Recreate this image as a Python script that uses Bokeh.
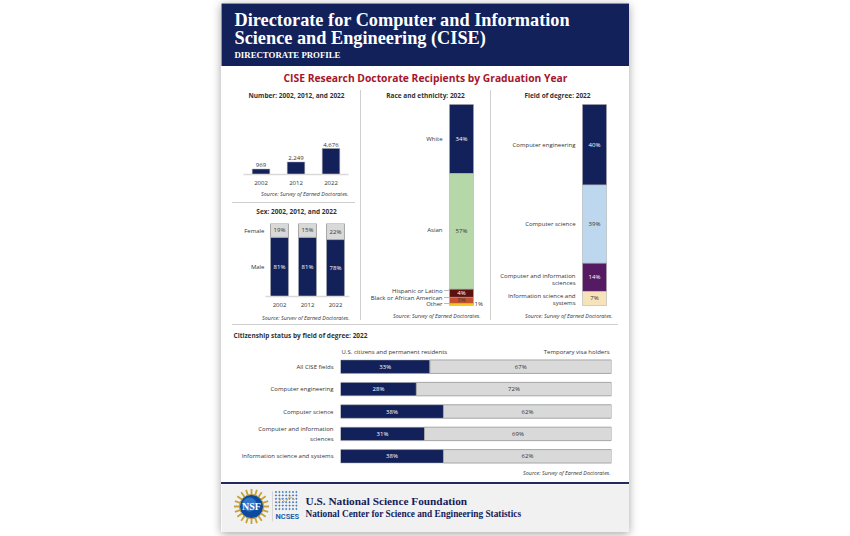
import numpy as np
from bokeh.core.properties import value
from bokeh.embed import file_html
from bokeh.layouts import column, row
from bokeh.models import CategoricalAxis, Div, FactorRange, FixedTicker, Label, LinearAxis, Range1d, Spacer
from bokeh.plotting import figure
from bokeh.resources import INLINE

# ---------- data ----------
number_years = ["2002", "2012", "2022"]
number_values = [969, 2249, 4676]
number_labels = ["969", "2,249", "4,676"]

sex_years = ["2002", "2012", "2022"]
sex_male = [81, 81, 78]
sex_female = [19, 19, 22]
sex_male_labels = ["81%", "81%", "78%"]
sex_female_labels = ["19%", "15%", "22%"]
sex_axis_ticks = {90: "Female", 40: "Male"}

race_names = ["White", "Asian", "Hispanic or Latino", "Black or African American", "Other"]
race_values = [34, 57, 4, 3, 1]
race_colors = ["#13215A", "#B6D7A8", "#5E0F0F", "#C4512D", "#F4C61F"]
race_text = ["#FFFFFF", "#333333", "#FFFFFF", "#333333"]

field_names = ["Computer engineering", "Computer science",
               "Computer and information sciences", "Information science and systems"]
field_values = [40, 39, 14, 7]
field_colors = ["#13215A", "#BDD7EE", "#561A63", "#F6E3B9"]
field_text = ["#FFFFFF", "#333333", "#FFFFFF", "#333333"]

cit_fields = ["All CISE fields", "Computer engineering", "Computer science",
              "Computer and information\nsciences", "Information science and systems"]
cit_us = [33, 28, 38, 31, 38]
cit_visa = [67, 72, 62, 69, 62]

NAVY = "#13215A"
GREY = "#D9D9D9"
EDGE = "#A6A6A6"
TXT = "#333333"
SANS = "Open Sans"
SERIF = "Liberation Serif"
SOURCE = "Source: Survey of Earned Doctorates."
LABEL_PX = 6.0
TITLE_PX = 6.5


def panel(x0, y0, x1, y1, frame=None, x_range=None, y_range=None, fill="#FFFFFF"):
    """A figure covering page box x0..x1, y0..y1 whose plot frame is the page box `frame`."""
    frame = frame or (x0, y0, x1, y1)
    p = figure(width=x1 - x0, height=y1 - y0, x_range=x_range or Range1d(x0, x1),
               y_range=y_range or Range1d(y1, y0),
               output_backend="svg", toolbar_location=None,
               min_border_left=frame[0] - x0, min_border_right=x1 - frame[2],
               min_border_top=frame[1] - y0, min_border_bottom=y1 - frame[3],
               x_axis_location=None, y_axis_location=None, outline_line_color=None,
               background_fill_color=fill, border_fill_color=fill, margin=0, frame_align=False)
    p.grid.visible = False
    p._frame = frame
    return p


def text(p, x, y, s, size=LABEL_PX, align="center", color=TXT, font=SANS, style="normal"):
    f = p._frame
    p.add_layout(Label(x=x - f[0], y=f[3] - y, x_units="screen", y_units="screen", text=s,
                       text_align=align, text_baseline="middle", text_color=color,
                       text_font=font, text_font_size=f"{size}px", text_font_style=style))


def rule(w, h, left=0):
    return Div(width=w, height=h, margin=(0, 0, 0, left), styles={"background-color": "#CFCFCF"})


def style_axis(ax, standoff=6):
    ax.major_tick_line_color = None
    ax.minor_tick_line_color = None
    ax.major_tick_out = 0
    ax.major_tick_in = 0
    ax.major_label_text_font = SANS
    ax.major_label_text_font_size = f"{LABEL_PX}px"
    ax.major_label_text_color = TXT
    ax.major_label_standoff = standoff


def year_axis(p):
    ax = CategoricalAxis()
    p.add_layout(ax, "below")
    style_axis(ax)
    ax.axis_line_color = GREY
    ax.axis_line_width = 1.5


LBL = f"{LABEL_PX}px"

# ---------- header ----------
head = panel(221, 3, 629, 66, fill=NAVY)
text(head, 234, 19.5, "Directorate for Computer and Information", 18.3, "left", "#FFFFFF", SERIF, "bold")
text(head, 234, 37.5, "Science and Engineering (CISE)", 18.3, "left", "#FFFFFF", SERIF, "bold")
text(head, 234, 54.5, "DIRECTORATE PROFILE", 8.8, "left", "#FFFFFF", SERIF, "bold")

ttl = panel(221, 66, 629, 90)
text(ttl, 425, 77.5, "CISE Research Doctorate Recipients by Graduation Year", 10.3, "center", "#A5162B", SANS, "bold")

# ---------- number ----------
num_title = panel(221, 90, 360, 104)
text(num_title, 296, 95, "Number: 2002, 2012, and 2022", TITLE_PX, style="bold")
num = panel(221, 104, 360, 190, (243, 104, 348, 174), FactorRange(factors=number_years, range_padding=0),
            Range1d(0, 12600))
year_axis(num)
num.vbar(x=number_years, top=number_values, width=0.5, fill_color=NAVY, line_color=EDGE, line_width=0.5)
num.text(x=number_years, y=number_values, text=number_labels, y_offset=-2, text_align="center",
         text_baseline="bottom", text_font=value(SANS), text_font_size=LBL, text_color=TXT)
num_src = panel(221, 190, 360, 202)
text(num_src, 348, 193, SOURCE, 5.4, "right", style="italic")

# ---------- sex ----------
sex_title = panel(221, 203, 360, 223)
text(sex_title, 296, 211, "Sex: 2002, 2012, and 2022", TITLE_PX, style="bold")
sex = panel(221, 223, 360, 310, (265, 223, 349, 296), FactorRange(factors=sex_years, range_padding=0),
            Range1d(0, 100))
year_axis(sex)
sex_y = LinearAxis(ticker=FixedTicker(ticks=list(sex_axis_ticks)), major_label_overrides=sex_axis_ticks)
sex.add_layout(sex_y, "left")
style_axis(sex_y, standoff=1)
sex_y.axis_line_color = None
sex_f_bottom = list(sex_male)
sex_f_top = [a + b for a, b in zip(sex_male, sex_female)]
sex.vbar(x=sex_years, bottom=0, top=sex_male, width=0.64, fill_color=NAVY, line_color=EDGE, line_width=0.5)
sex.vbar(x=sex_years, bottom=sex_f_bottom, top=sex_f_top, width=0.64, fill_color=GREY, line_color=EDGE, line_width=1)
sex.text(x=sex_years, y=[v / 2 for v in sex_male], text=sex_male_labels, text_align="center",
         text_baseline="middle", text_font=value(SANS), text_font_size=LBL, text_color="#FFFFFF")
sex.text(x=sex_years, y=[(a + b) / 2 for a, b in zip(sex_f_bottom, sex_f_top)], text=sex_female_labels,
         text_align="center", text_baseline="middle", text_font=value(SANS), text_font_size=LBL, text_color=TXT)
sex_src = panel(221, 310, 360, 320)
text(sex_src, 349, 315, SOURCE, 5.4, "right", style="italic")


# ---------- stacked columns ----------
def stacked(x0, x1, bar_x0, bar_x1, values, colors, labels, label_colors):
    total = sum(values)
    per_px = total / 201.0
    p = panel(x0, 90, x1, 320, None, Range1d(x0, x1),
              Range1d((320 - 104) * per_px, (90 - 104) * per_px))
    tops = np.cumsum([0] + list(values))[:-1]
    bottoms = np.cumsum(values)
    xc = (bar_x0 + bar_x1) / 2
    p.vbar(x=[xc] * len(values), top=tops.tolist(), bottom=bottoms.tolist(), width=bar_x1 - bar_x0,
           fill_color=colors, line_color=EDGE, line_width=0.5)
    mids = ((tops + bottoms) / 2).tolist()
    p.text(x=[xc] * len(labels), y=mids[:len(labels)], text=labels, text_align="center", text_baseline="middle",
           text_font=value(SANS), text_font_size=LBL, text_color=label_colors)
    return p


race = stacked(361, 490, 449, 473, race_values, race_colors,
               [f"{v}%" for v in race_values[:4]], race_text)
text(race, 425, 95, "Race and ethnicity: 2022", TITLE_PX, style="bold")
text(race, 442, 138, race_names[0], align="right")
text(race, 442, 229, race_names[1], align="right")
text(race, 442, 290, race_names[2], align="right")
text(race, 442, 297, race_names[3], align="right")
text(race, 442, 303, race_names[4], align="right")
text(race, 474, 303, f"{race_values[4]}%", align="left")
text(race, 480, 315, SOURCE, 5.4, "right", style="italic")
leader_y = [(py - 104) * sum(race_values) / 201.0 for py in (290, 297, 303)]
race.segment(x0=[443.5] * 3, x1=[448.5] * 3, y0=leader_y, y1=leader_y, line_color="#8C8C8C", line_width=0.6)

field = stacked(491, 629, 582, 606, field_values, field_colors,
                [f"{v}%" for v in field_values], field_text)
text(field, 557, 95, "Field of degree: 2022", TITLE_PX, style="bold")
text(field, 575, 144, "Computer engineering", align="right")
text(field, 575, 223, "Computer science", align="right")
text(field, 575, 275, "Computer and information", align="right")
text(field, 575, 282, "sciences", align="right")
text(field, 575, 295, "Information science and", align="right")
text(field, 575, 302, "systems", align="right")
text(field, 612, 315, SOURCE, 5.4, "right", style="italic")

# ---------- citizenship ----------
cit_head = panel(221, 325, 629, 355)
text(cit_head, 233, 335, "Citizenship status by field of degree: 2022", TITLE_PX, "left", style="bold")
text(cit_head, 341, 351, "U.S. citizens and permanent residents", align="left")
text(cit_head, 609, 351, "Temporary visa holders", align="right")
cit = panel(221, 355, 629, 467, (340, 355, 611, 467), Range1d(0, 100),
            FactorRange(factors=cit_fields[::-1], range_padding=0))
yax = CategoricalAxis()
cit.add_layout(yax, "left")
style_axis(yax, standoff=7)
yax.axis_line_color = None
cit.hbar(y=cit_fields, left=0, right=cit_us, height=0.6, fill_color=NAVY, line_color=EDGE, line_width=0.5)
cit.hbar(y=cit_fields, left=cit_us, right=[100] * 5, height=0.6, fill_color=GREY, line_color=EDGE, line_width=1)
cit.text(x=[v / 2 for v in cit_us], y=cit_fields, text=[f"{v}%" for v in cit_us], text_align="center",
         text_baseline="middle", text_font=value(SANS), text_font_size=LBL, text_color="#FFFFFF")
cit.text(x=[u + v / 2 for u, v in zip(cit_us, cit_visa)], y=cit_fields, text=[f"{v}%" for v in cit_visa],
         text_align="center", text_baseline="middle", text_font=value(SANS), text_font_size=LBL, text_color=TXT)
cit_src = panel(221, 467, 629, 482)
text(cit_src, 610, 472, SOURCE, 5.4, "right", style="italic")

# ---------- footer ----------
foot = panel(221, 484, 629, 532, fill="#F1F1F1")
ang = np.linspace(0, 2 * np.pi, 20, endpoint=False)
foot.segment(x0=(251 + 11 * np.cos(ang)).tolist(), y0=(506 + 11 * np.sin(ang)).tolist(),
             x1=(251 + 17.5 * np.cos(ang)).tolist(), y1=(506 + 17.5 * np.sin(ang)).tolist(),
             line_color="#C8A13A", line_width=1.8)
foot.circle(x=[251], y=[506], radius=12, fill_color="#0B4A9E", line_color="#C8A13A", line_width=1)
foot.circle(x=[249], y=[504], radius=7, fill_color="#3E8AD6", line_color=None, fill_alpha=0.7)
foot.text(x=[251], y=[506], text=["NSF"], text_align="center", text_baseline="middle",
          text_font=value(SERIF), text_font_style="bold", text_font_size="10px", text_color="#FFFFFF")
foot.segment(x0=[272], x1=[272], y0=[491], y1=[521], line_color="#CFCFCF", line_width=0.8)
gx, gy = np.meshgrid(np.arange(275.5, 296, 3.4), np.arange(491.5, 509, 3.4))
foot.scatter(gx.ravel().tolist(), gy.ravel().tolist(), size=1.2, color="#2F6DB5", alpha=0.75)
foot.line([277, 281, 285, 289, 294], [503, 498, 502, 496, 499], line_color="#C8A13A", line_width=0.8)
foot.text(x=[275], y=[515.5], text=["NCSES"], text_baseline="middle", text_font=value("Roboto"),
          text_font_style="bold", text_font_size="7.5px", text_color="#1D5FA8")
text(foot, 305, 500.5, "U.S. National Science Foundation", 11.3, "left", NAVY, SERIF, "bold")
text(foot, 305, 513.5, "National Center for Science and Engineering Statistics", 9.3, "left", NAVY, SERIF, "bold")

# ---------- layout ----------
left_col = column(num_title, num, num_src, rule(123, 1, 11), sex_title, sex, sex_src, spacing=0, margin=0)
middle = row(left_col, rule(1, 230), race, rule(1, 230), field, spacing=0, margin=0)
navy_rule = Div(width=408, height=2, margin=0, styles={"background-color": "#1F2A5F"})
page = column(head, ttl, middle, Spacer(width=408, height=4, margin=0), rule(386, 1, 11),
              cit_head, cit, cit_src, navy_rule, foot,
              spacing=0, width=408, height=529, margin=(3, 0, 0, 221),
              styles={"background-color": "#FFFFFF", "box-shadow": "0 2px 9px rgba(0,0,0,0.35)"})

open("out.html", "w").write(file_html(page, INLINE))
